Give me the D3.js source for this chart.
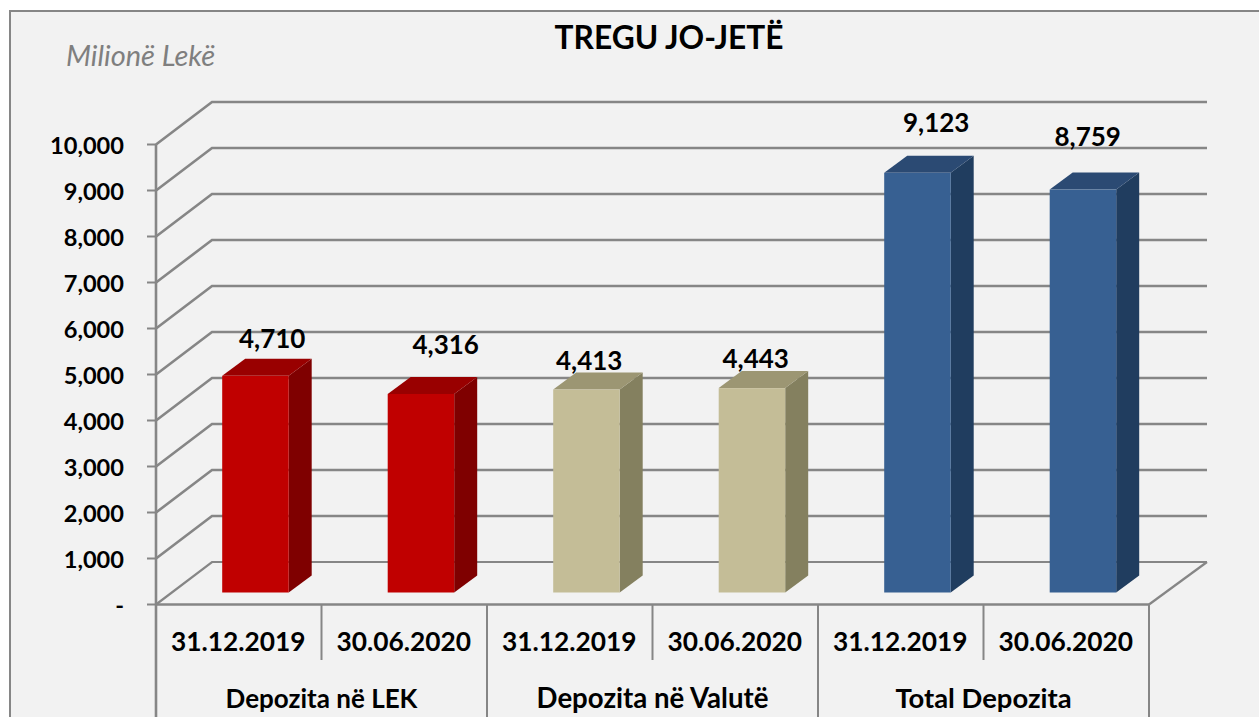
<!DOCTYPE html>
<html><head><meta charset="utf-8">
<script src="https://cdn.jsdelivr.net/npm/d3@7"></script>
<style>html,body{margin:0;padding:0;background:#fff;overflow:hidden}svg{display:block}text{font-family:Lato,sans-serif}</style>
</head><body><svg id="c" width="1259" height="717"></svg>
<script>
const groups = ["Depozita në LEK","Depozita në Valutë","Total Depozita"];
const groupSizes = [26,27.6,27.4];
const dates = ["31.12.2019","30.06.2020"];
const values = [4710,4316,4413,4443,9123,8759];
const labels = ["4,710","4,316","4,413","4,443","9,123","8,759"];
const labelLift = [19,31,10.5,11,32,34.6];
const labelShift = [-1,7,-15,-14,1,-13];
const ticks = [0,1000,2000,3000,4000,5000,6000,7000,8000,9000,10000];
const frontColors = ["#c00000","#c00000","#c4bd97","#c4bd97","#376092","#376092"];
const sideColors = ["#7f0000","#7f0000","#84805f","#84805f","#203d5f","#203d5f"];
const topColors = ["#990000","#990000","#9c9673","#9c9673","#2b4a73","#2b4a73"];

const svg = d3.select("#c");
const gridC = "#868686";
const X0=156, X1=1149, Y0=604.5, Y10=144.5, DX=56, DY=-42.5;
const y = d3.scaleLinear().domain([0,10000]).range([Y0,Y10]);
const slots = d3.range(6);
const x = d3.scaleBand().domain(slots).range([X0,X1]).paddingInner(0).paddingOuter(0);
const barW = 66.5, barDX=23, barDY=-17, barLift=12, barShift=16.7;

svg.append("rect").attr("x",10).attr("y",11).attr("width",1300).attr("height",800)
  .attr("fill","#f2f2f2").attr("stroke",gridC).attr("stroke-width",2);

ticks.forEach(t=>{
  svg.append("path").attr("fill","none").attr("stroke",gridC).attr("stroke-width",t===0?2.2:2.6)
    .attr("d",`M${X0},${y(t)}L${X0+DX},${y(t)+DY}L${X1+58},${y(t)+DY}`);
  svg.append("line").attr("x1",X0-9).attr("x2",X0).attr("y1",y(t)).attr("y2",y(t))
    .attr("stroke",gridC).attr("stroke-width",2);
  svg.append("text").attr("x",X0-32).attr("y",y(t)+9.5).attr("text-anchor","end")
    .attr("font-size",23.6).attr("font-weight",700).attr("fill","#000")
    .text(t===0?"-":d3.format(",")(t));
});
svg.append("line").attr("x1",X1).attr("y1",Y0).attr("x2",X1+58).attr("y2",Y0+DY).attr("stroke",gridC).attr("stroke-width",2.2);
svg.append("line").attr("x1",X0).attr("y1",Y10).attr("x2",X0).attr("y2",717).attr("stroke",gridC).attr("stroke-width",2.6);
svg.append("line").attr("x1",X0).attr("y1",Y0).attr("x2",X1).attr("y2",Y0).attr("stroke",gridC).attr("stroke-width",2.6);

slots.concat(6).forEach(i=>{
  const px = X0 + i*x.bandwidth();
  const tall = i%2===0;
  if(i===0) return;
  svg.append("line").attr("x1",px).attr("x2",px).attr("y1",Y0).attr("y2",tall?717:660)
    .attr("stroke",gridC).attr("stroke-width",2);
});

values.forEach((v,i)=>{
  const left = x(i)+(x.bandwidth()-barW)/2+barShift;
  const right = left+barW, base=Y0-barLift;
  const top = y(v)-barLift;
  svg.append("path").attr("fill",sideColors[i])
    .attr("d",`M${right},${top}L${right+barDX},${top+barDY}L${right+barDX},${base+barDY}L${right},${base}Z`);
  svg.append("path").attr("fill",topColors[i])
    .attr("d",`M${left},${top}L${left+barDX},${top+barDY}L${right+barDX},${top+barDY}L${right},${top}Z`);
  svg.append("rect").attr("x",left).attr("y",top).attr("width",barW).attr("height",base-top).attr("fill",frontColors[i]);
  svg.append("text").attr("x",left+51+labelShift[i]).attr("y",top-labelLift[i]-9).attr("text-anchor","middle")
    .attr("font-size",26).attr("font-weight",700).attr("fill","#000").text(labels[i]);
});

slots.forEach(i=>{
  svg.append("text").attr("x",x(i)+x.bandwidth()/2-0.5).attr("y",651).attr("text-anchor","middle")
    .attr("font-size",26.3).attr("font-weight",700).attr("fill","#000").text(dates[i%2]);
});
groups.forEach((g,k)=>{
  svg.append("text").attr("x",x(k*2)+x.bandwidth()).attr("y",708).attr("text-anchor","middle")
    .attr("font-size",groupSizes[k]).attr("font-weight",700).attr("fill","#000").text(g);
});

svg.append("text").attr("x",669).attr("y",49).attr("text-anchor","middle")
  .attr("font-size",31.7).attr("font-weight",700).attr("fill","#000").text("TREGU JO-JETË");
svg.append("text").attr("x",66).attr("y",65.5)
  .attr("font-size",29).attr("font-style","italic").attr("fill","#7f7f7f").text("Milionë Lekë");
</script></body></html>
